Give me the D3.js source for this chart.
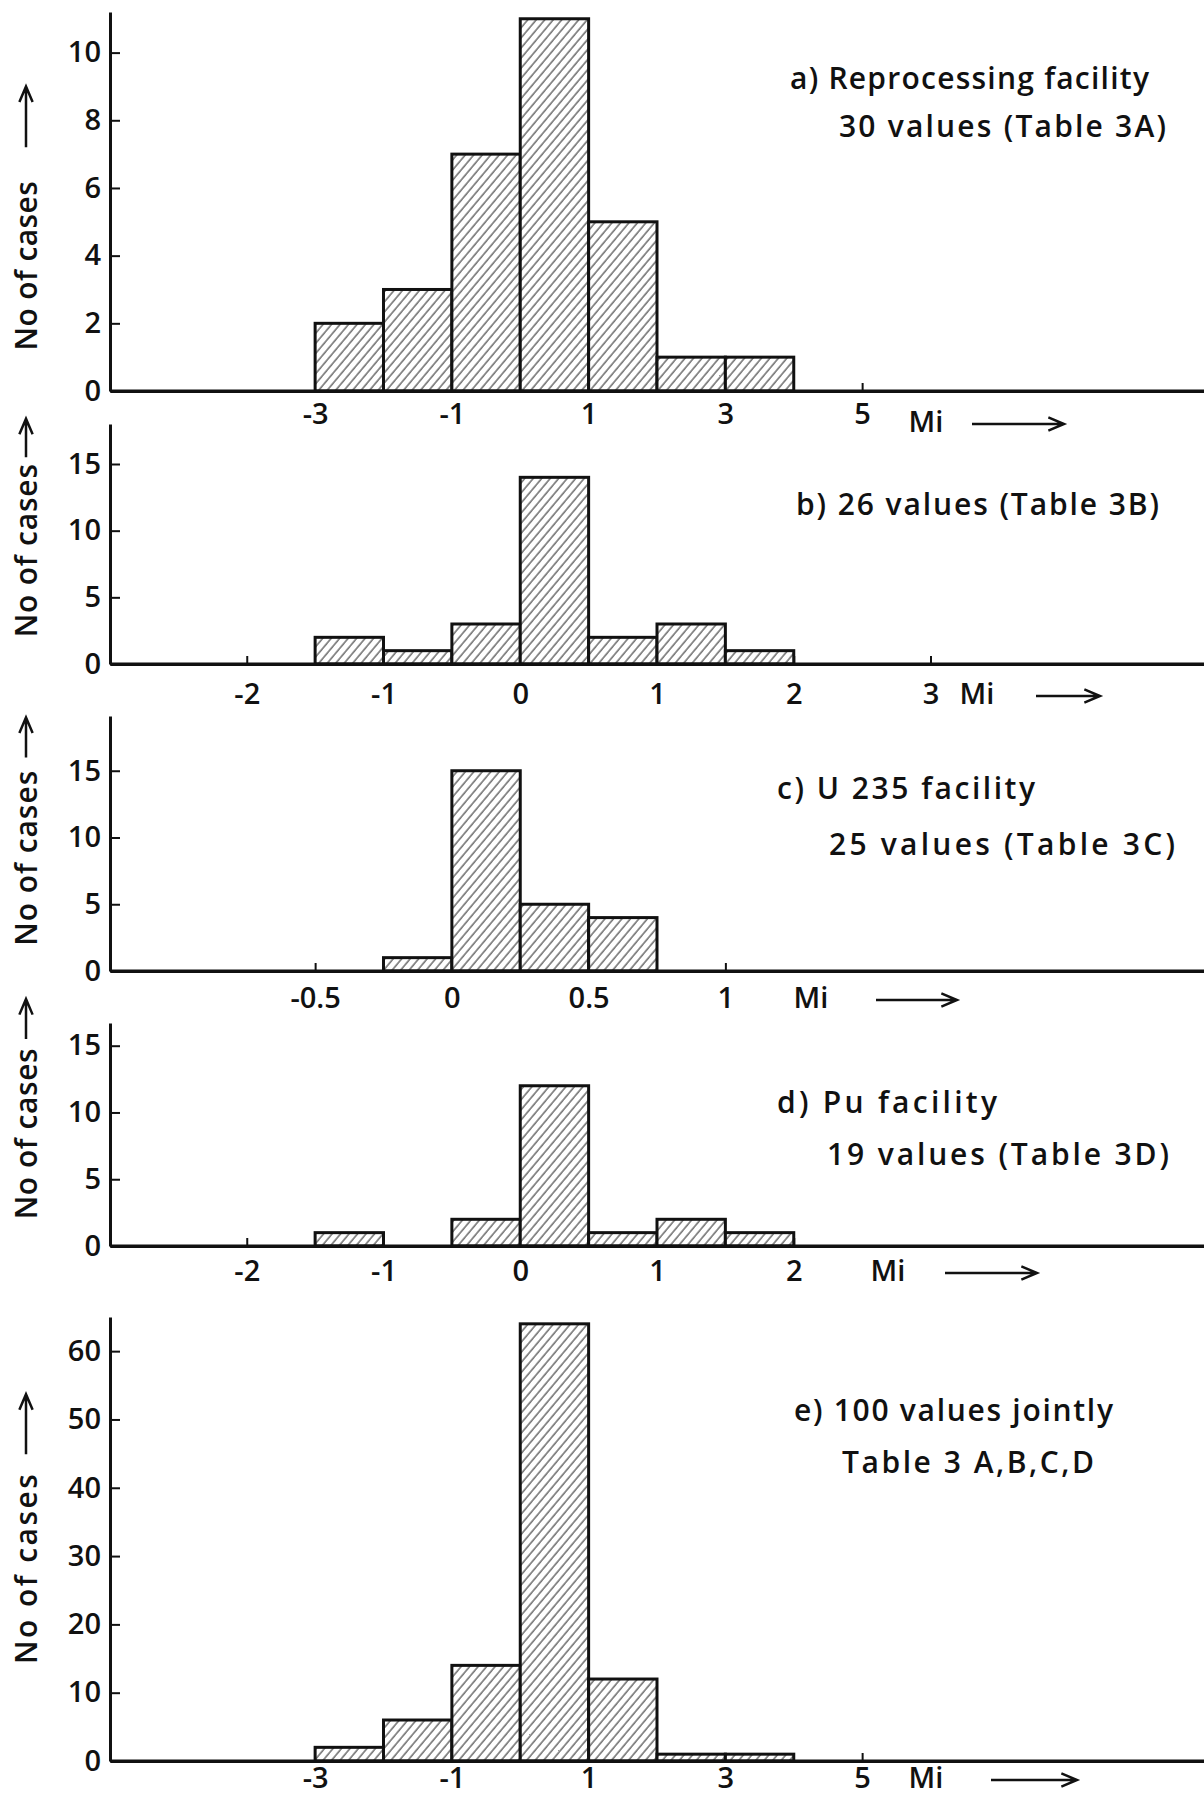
<!DOCTYPE html>
<html>
<head>
<meta charset="utf-8">
<script src="https://cdn.jsdelivr.net/npm/d3@7"></script>
<style>
  body { margin: 0; background: #fff; }
  svg { display: block; font-family: "Open Sans", "DejaVu Sans", sans-serif; font-weight: 600; }
</style>
</head>
<body>
<script>
const W = 1204;
const H = 1797;

// bin edges + counts for each histogram
const edgesA = [-3, -2, -1, 0, 1, 2, 3, 4];
const countsA = [2, 3, 7, 11, 5, 1, 1];
const edgesB = [-1.5, -1, -0.5, 0, 0.5, 1, 1.5, 2];
const countsB = [2, 1, 3, 14, 2, 3, 1];
const edgesC = [-0.25, 0, 0.25, 0.5, 0.75];
const countsC = [1, 15, 5, 4];
const edgesD = [-1.5, -1, -0.5, 0, 0.5, 1, 1.5, 2];
const countsD = [1, 0, 2, 12, 1, 2, 1];
const edgesE = [-3, -2, -1, 0, 1, 2, 3, 4];
const countsE = [2, 6, 14, 64, 12, 1, 1];

// tick values and labels
const xTicksA = [-3, -1, 1, 3, 5];
const xLabelsA = ["-3", "-1", "1", "3", "5"];
const xTicksB = [-2, -1, 0, 1, 2, 3];
const xLabelsB = ["-2", "-1", "0", "1", "2", "3"];
const xTicksC = [-0.5, 0, 0.5, 1];
const xLabelsC = ["-0.5", "0", "0.5", "1"];
const xTicksD = [-2, -1, 0, 1, 2];
const xLabelsD = ["-2", "-1", "0", "1", "2"];
const xTicksE = [-3, -1, 1, 3, 5];
const xLabelsE = ["-3", "-1", "1", "3", "5"];

const yTicksA = [0, 2, 4, 6, 8, 10];
const yTicksB = [0, 5, 10, 15];
const yTicksC = [0, 5, 10, 15];
const yTicksD = [0, 5, 10, 15];
const yTicksE = [0, 10, 20, 30, 40, 50, 60];

const notesA = ["a) Reprocessing facility", "30 values (Table 3A)"];
const notesB = ["b) 26 values (Table 3B)"];
const notesC = ["c) U 235 facility", "25 values (Table 3C)"];
const notesD = ["d) Pu facility", "19 values (Table 3D)"];
const notesE = ["e) 100 values jointly", "Table 3 A,B,C,D"];

const yLabel = "No of cases";

// layout of the five panels (pixels)
const axisX = 110;
const panels = [
  { edges: edgesA, counts: countsA, xDom: [-6, 10], yDom: [0, 11.2], y0: 391, y1: 12,
    xTicks: xTicksA, xLabels: xLabelsA, yTicks: yTicksA, pad: 12, miDy: 31,
    notes: notesA, noteX: [790, 839], noteY: [89, 137], noteW: [359, 327],
    miX: 926, arrowX: [972, 1064],
    lab: [1.2, 6.2], labArrow: [7.2, 9.0] },
  { edges: edgesB, counts: countsB, xDom: [-3, 5], yDom: [0, 18], y0: 664, y1: 424,
    xTicks: xTicksB, xLabels: xLabelsB, yTicks: yTicksB, pad: 19, miDy: 30,
    notes: notesB, noteX: [796], noteY: [515], noteW: [363],
    miX: 977, arrowX: [1036, 1100],
    lab: [2, 15], labArrow: [15.5, 18.4] },
  { edges: edgesC, counts: countsC, xDom: [-1.25, 2.75], yDom: [0, 19.1], y0: 971, y1: 716,
    xTicks: xTicksC, xLabels: xLabelsC, yTicks: yTicksC, pad: 16, miDy: 27,
    notes: notesC, noteX: [777, 829], noteY: [799, 855], noteW: [258, 346],
    miX: 811, arrowX: [876, 957],
    lab: [1.9, 15], labArrow: [16, 19] },
  { edges: edgesD, counts: countsD, xDom: [-3, 5], yDom: [0, 16.7], y0: 1246, y1: 1023,
    xTicks: xTicksD, xLabels: xLabelsD, yTicks: yTicksD, pad: 14, miDy: 25,
    notes: notesD, noteX: [777, 827], noteY: [1113, 1165], noteW: [220, 342],
    miX: 888, arrowX: [945, 1037],
    lab: [2, 14.8], labArrow: [15.5, 18.5] },
  { edges: edgesE, counts: countsE, xDom: [-6, 10], yDom: [0, 65], y0: 1761, y1: 1317,
    xTicks: xTicksE, xLabels: xLabelsE, yTicks: yTicksE, pad: 6, miDy: 17,
    notes: notesE, noteX: [794, 842], noteY: [1421, 1473], noteW: [319, 252],
    miX: 926, arrowX: [991, 1077],
    lab: [14.2, 42], labArrow: [44.9, 53.7] }
];

const svg = d3.select("body").append("svg")
  .attr("width", W)
  .attr("height", H);

svg.append("rect").attr("width", W).attr("height", H).attr("fill", "#fff");

// diagonal hatching
const pat = svg.append("defs").append("pattern")
  .attr("id", "hatch")
  .attr("patternUnits", "userSpaceOnUse")
  .attr("width", 6.5)
  .attr("height", 6.5)
  .attr("patternTransform", "rotate(40)");
pat.append("rect").attr("width", 6.5).attr("height", 6.5).attr("fill", "#fff");
pat.append("line")
  .attr("x1", 1).attr("y1", 0).attr("x2", 1).attr("y2", 6.5)
  .attr("stroke", "#222").attr("stroke-width", 1);

const arrowPath = (x0, y0, x1, y1) => {
  // straight shaft with an open head at (x1, y1)
  const a = Math.atan2(y1 - y0, x1 - x0);
  const L = 17, s = 0.4;
  const hx1 = x1 - L * Math.cos(a - s), hy1 = y1 - L * Math.sin(a - s);
  const hx2 = x1 - L * Math.cos(a + s), hy2 = y1 - L * Math.sin(a + s);
  return "M" + x0 + "," + y0 + "L" + x1 + "," + y1 +
    "M" + hx1 + "," + hy1 + "L" + x1 + "," + y1 + "L" + hx2 + "," + hy2;
};

const drawPanel = (p) => {
  const g = svg.append("g");

  const x = d3.scaleLinear().domain(p.xDom).range([axisX, W]);
  const y = d3.scaleLinear().domain(p.yDom).range([p.y0, p.y1]);

  const xAxis = d3.axisBottom(x)
    .tickValues(p.xTicks)
    .tickFormat((d, i) => p.xLabels[i])
    .tickSizeInner(-8)
    .tickSizeOuter(0)
    .tickPadding(p.pad);

  const yAxis = d3.axisLeft(y)
    .tickValues(p.yTicks)
    .tickSizeInner(-10)
    .tickSizeOuter(0)
    .tickPadding(9);

  const gx = g.append("g")
    .attr("transform", "translate(0," + p.y0 + ")")
    .call(xAxis);
  const gy = g.append("g")
    .attr("transform", "translate(" + axisX + ",0)")
    .call(yAxis);

  [gx, gy].forEach((ax) => {
    ax.select(".domain").attr("stroke", "#111").attr("stroke-width", 3);
    ax.selectAll(".tick line").attr("stroke", "#111").attr("stroke-width", 2);
    ax.selectAll(".tick text")
      .attr("fill", "#111")
      .style("font-size", "29px")
      .style("font-family", "'Open Sans','DejaVu Sans',sans-serif")
      .style("font-weight", "600");
  });
  gy.selectAll(".tick").filter((d) => d === 0).select("line").remove();

  // bars
  const bins = p.counts.map((c, i) => ({ x0: p.edges[i], x1: p.edges[i + 1], n: c }));
  g.selectAll("rect.bar")
    .data(bins.filter((b) => b.n > 0))
    .enter()
    .append("rect")
    .attr("class", "bar")
    .attr("x", (d) => x(d.x0))
    .attr("y", (d) => y(d.n))
    .attr("width", (d) => x(d.x1) - x(d.x0))
    .attr("height", (d) => y(0) - y(d.n))
    .attr("fill", "url(#hatch)")
    .attr("stroke", "#111")
    .attr("stroke-width", 3);

  // redraw baseline on top of bars
  g.append("line")
    .attr("x1", axisX).attr("x2", W)
    .attr("y1", p.y0).attr("y2", p.y0)
    .attr("stroke", "#111").attr("stroke-width", 3);

  // "Mi ->" label
  const miC = p.y0 + p.miDy;
  g.append("text")
    .attr("x", p.miX)
    .attr("y", miC)
    .attr("dy", "0.36em")
    .attr("text-anchor", "middle")
    .style("font-size", "29px")
    .attr("fill", "#111")
    .text("Mi");
  g.append("path")
    .attr("d", arrowPath(p.arrowX[0], miC + 2, p.arrowX[1], miC + 2))
    .attr("fill", "none")
    .attr("stroke", "#111")
    .attr("stroke-width", 2.5);

  // notes
  p.notes.forEach((t, i) => {
    g.append("text")
      .attr("x", p.noteX[i])
      .attr("y", p.noteY[i])
      .attr("textLength", p.noteW[i])
      .attr("lengthAdjust", "spacing")
      .style("font-size", "30px")
      .attr("fill", "#111")
      .text(t);
  });

  // rotated y label with arrow
  const yb = y(p.lab[0]);
  const yt = y(p.lab[1]);
  g.append("text")
    .attr("transform", "translate(37," + yb + ") rotate(-90)")
    .attr("textLength", yb - yt)
    .attr("lengthAdjust", "spacing")
    .style("font-size", "30px")
    .attr("fill", "#111")
    .text(yLabel);
  g.append("path")
    .attr("d", arrowPath(26, y(p.labArrow[0]), 26, y(p.labArrow[1])))
    .attr("fill", "none")
    .attr("stroke", "#111")
    .attr("stroke-width", 2.5);
};

panels.forEach(drawPanel);
</script>
</body>
</html>
